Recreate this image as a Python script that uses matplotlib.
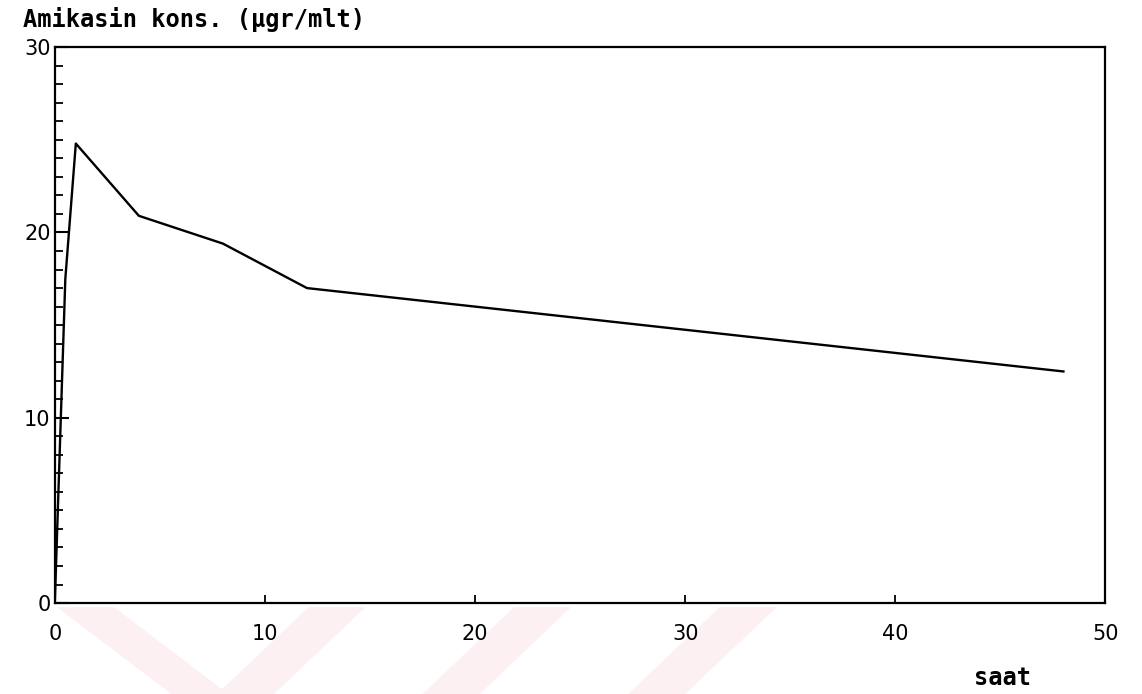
import matplotlib.pyplot as plt
from matplotlib.ticker import MultipleLocator
from matplotlib.patches import Polygon

# amikasin serum levels
saat = [0, 0.5, 1, 4, 8, 12, 24, 36, 48]
kons = [0, 17.5, 24.8, 20.9, 19.4, 17.0, 15.5, 14.0, 12.5]

x_ticks = [0, 10, 20, 30, 40, 50]
y_ticks = [0, 10, 20, 30]

fig = plt.figure(figsize=(11.42, 6.94), dpi=100)

# faint pink watermark stripes at the bottom of the scan
for pts in ([(0.05, 0.125), (0.10, 0.125), (0.20, 0.0), (0.15, 0.0)],
            [(0.27, 0.125), (0.32, 0.125), (0.24, 0.0), (0.19, 0.0)],
            [(0.45, 0.125), (0.50, 0.125), (0.42, 0.0), (0.37, 0.0)],
            [(0.63, 0.125), (0.68, 0.125), (0.60, 0.0), (0.55, 0.0)]):
    fig.patches.append(Polygon(pts, closed=True, transform=fig.transFigure,
                               facecolor='#fdf0f2', edgecolor='none', zorder=-5))

ax = fig.add_axes([0.048, 0.131, 0.920, 0.801])
ax.set_zorder(2)
ax.patch.set_alpha(0)

ax.plot(saat, kons, color='black', linewidth=1.7)

ax.set_xlim(0, 50)
ax.set_ylim(0, 30)
ax.set_xticks(x_ticks)
ax.set_yticks(y_ticks)
ax.yaxis.set_minor_locator(MultipleLocator(1))

for s in ax.spines.values():
    s.set_linewidth(1.6)

ax.tick_params(axis='x', direction='in', length=6, width=1.3, pad=15,
               labelsize=15, top=False)
ax.tick_params(axis='y', which='major', direction='in', length=10, width=1.5,
               pad=3, labelsize=15, right=False)
ax.tick_params(axis='y', which='minor', direction='in', length=6, width=1.3,
               right=False)

fig.text(0.02, 0.972, 'Amikasin kons. (\u00b5gr/mlt)', family='DejaVu Sans Mono',
         fontweight='bold', fontsize=17, va='center', ha='left')
fig.text(0.878, 0.023, 'saat', family='DejaVu Sans Mono', fontweight='bold',
         fontsize=17, va='center', ha='center')

fig.savefig('out.png', dpi=100)
